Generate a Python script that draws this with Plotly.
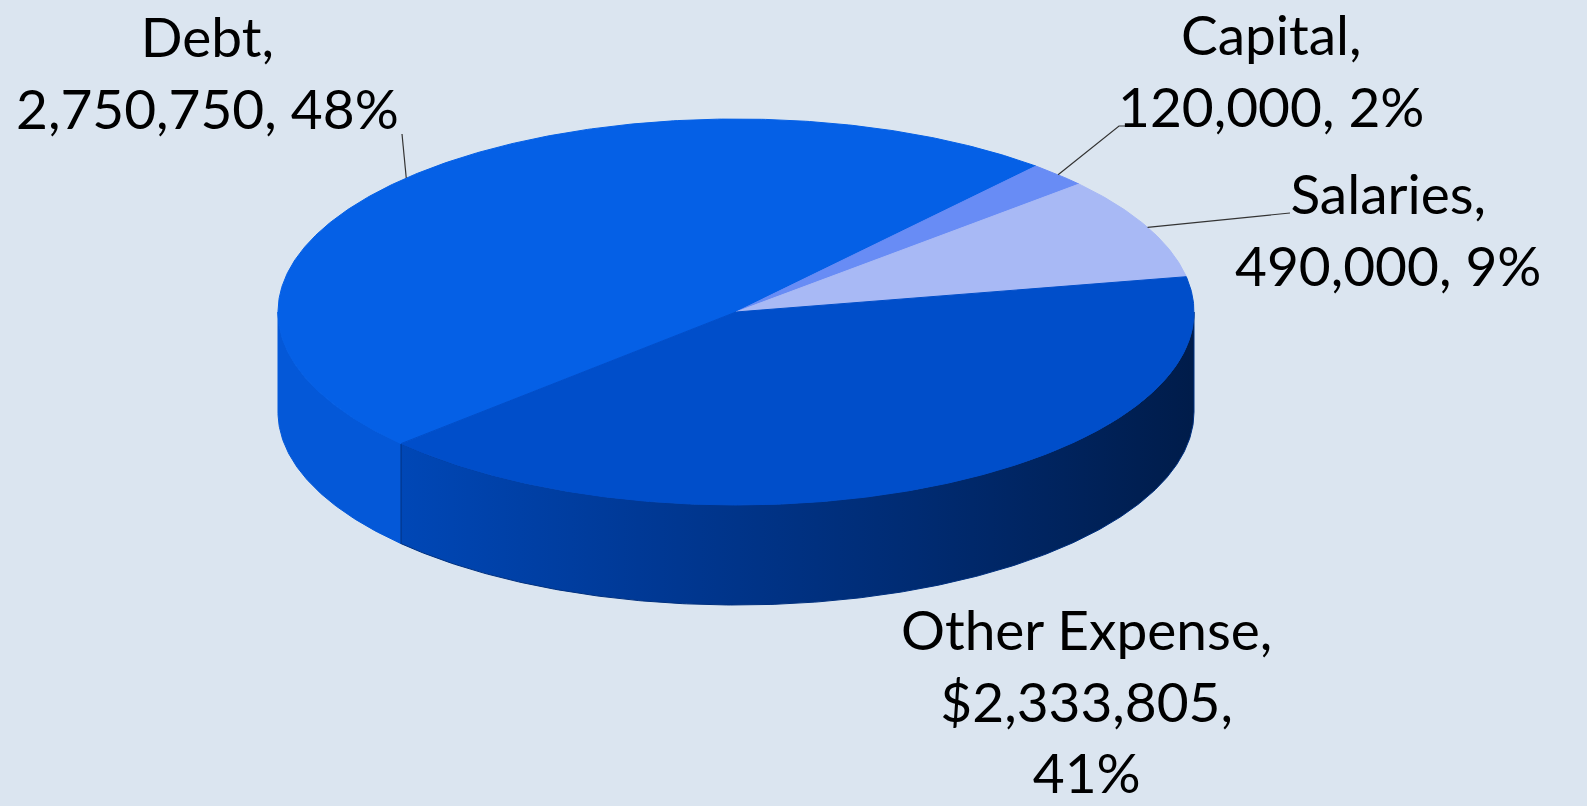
import numpy as np
import plotly.graph_objects as go

# Budget breakdown
categories = ["Debt", "Capital", "Salaries", "Other Expense"]
amounts = [2750750, 120000, 490000, 2333805]
label_formats = [
    "{n},<br>{v:,}, {p}%",
    "{n},<br>{v:,}, {p}%",
    "{n},<br>{v:,}, {p}%",
    "{n},<br>${v:,},<br>{p}%",
]

# Styling
top_colors = ["#0560E6", "#688CF5", "#A8B9F5", "#004ECA"]
side_colors = ["#0458D8", "#5A7EE8", "#96A8E6", None]
other_side_scale = [[0.0, "#0047B6"], [0.3, "#003996"], [0.65, "#002B72"], [1.0, "#001C4A"]]
BG = "#DBE5F0"

W, H = 1587, 806
CX, CY = 736.0, 312.0      # centre of the top face
RX, RY = 458.0, 193.0      # ellipse radii of the top face
DEPTH = 100.0              # pie thickness
START_DEG = 223.0          # first slice starts here and runs clockwise

label_pos = [(207, 72), (1271, 70), (1388, 229), (1086, 700)]
leader_anchor = [[(402, 134)], [(1128, 126), (1119, 126)], [(1290, 213)], []]


def edge(t_deg, dy=0.0):
    t = np.radians(t_deg)
    return CX + RX * np.cos(t), CY - RY * np.sin(t) + dy


total = float(sum(amounts))
fracs = [v / total for v in amounts]
bounds = [START_DEG]
for f in fracs:
    bounds.append(bounds[-1] - f * 360.0)

fig = go.Figure()

# Side walls (front half of the rim, angles 180..360)
for i, name in enumerate(categories):
    a0, a1 = bounds[i + 1], bounds[i]  # a0 < a1
    segs = []
    for shift in (-360.0, 0.0, 360.0):
        lo, hi = max(a0 + shift, 180.0), min(a1 + shift, 360.0)
        if hi > lo:
            segs.append((lo, hi))
    for lo, hi in segs:
        ts = np.linspace(lo, hi, max(8, int((hi - lo) * 2)))
        xt, yt = edge(ts)
        xb, yb = edge(ts[::-1], DEPTH)
        xs = np.concatenate([xt, xb, xt[:1]])
        ys = np.concatenate([yt, yb, yt[:1]])
        if side_colors[i] is None:
            fig.add_trace(go.Scatter(
                x=xs, y=ys, mode="lines", fill="toself",
                line=dict(width=1, color="#00307F"),
                fillgradient=dict(type="horizontal", colorscale=other_side_scale),
                hoverinfo="skip", showlegend=False))
        else:
            fig.add_trace(go.Scatter(
                x=xs, y=ys, mode="lines", fill="toself",
                line=dict(width=1, color=side_colors[i]),
                fillcolor=side_colors[i], hoverinfo="skip", showlegend=False))

# Top faces
for i, name in enumerate(categories):
    a1, a0 = bounds[i], bounds[i + 1]
    ts = np.linspace(a1, a0, max(6, int((a1 - a0) * 2)))
    xe, ye = edge(ts)
    xs = np.concatenate([[CX], xe, [CX]])
    ys = np.concatenate([[CY], ye, [CY]])
    fig.add_trace(go.Scatter(
        x=xs, y=ys, mode="lines", fill="toself",
        line=dict(width=1, color=top_colors[i]),
        fillcolor=top_colors[i], hoverinfo="skip", showlegend=False,
        name=name))

# Leader lines and data labels
for i, name in enumerate(categories):
    mid = (bounds[i] + bounds[i + 1]) / 2.0
    if leader_anchor[i]:
        ex, ey = edge(mid)
        pts = leader_anchor[i] + [(ex, ey)]
        fig.add_trace(go.Scatter(
            x=[p[0] for p in pts], y=[p[1] for p in pts], mode="lines",
            line=dict(width=1.2, color="#333333"),
            hoverinfo="skip", showlegend=False))
    pct = round(fracs[i] * 100)
    txt = label_formats[i].format(n=name, v=amounts[i], p=pct)
    fig.add_annotation(
        x=label_pos[i][0], y=label_pos[i][1], text=txt, showarrow=False,
        xanchor="center", yanchor="middle", align="center",
        font=dict(family="Lato, 'Open Sans', sans-serif", size=55, color="#000000"))

fig.update_layout(
    width=W, height=H,
    margin=dict(l=0, r=0, t=0, b=0),
    paper_bgcolor=BG, plot_bgcolor=BG,
    xaxis=dict(range=[0, W], visible=False, fixedrange=True),
    yaxis=dict(range=[H, 0], visible=False, fixedrange=True),
    showlegend=False,
)

fig.write_html("out.html", config={"displayModeBar": False})
